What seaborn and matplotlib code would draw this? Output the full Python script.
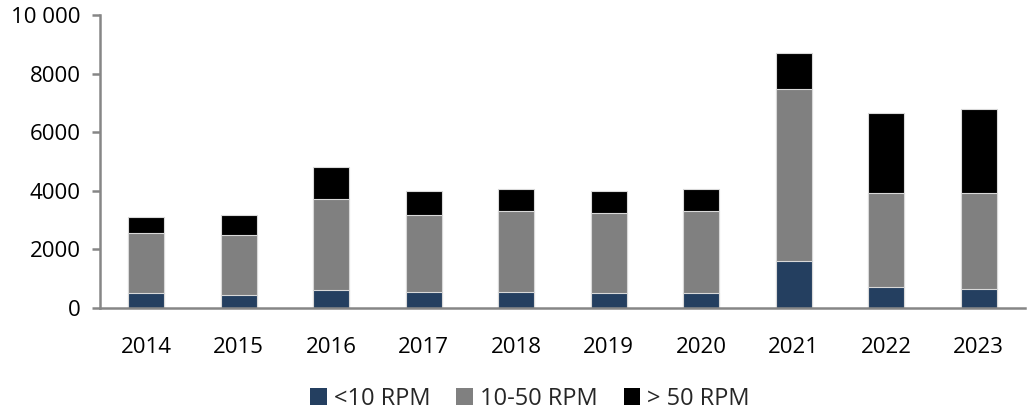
import matplotlib
matplotlib.use("Agg")
import matplotlib.pyplot as plt
import pandas as pd
import seaborn as sns
from matplotlib.patches import Patch

years = ['2014', '2015', '2016', '2017', '2018', '2019', '2020', '2021', '2022', '2023']
low = [500, 430, 625, 555, 555, 500, 500, 1590, 700, 635]
mid = [2060, 2050, 3095, 2620, 2755, 2740, 2810, 5885, 3225, 3290]
high = [545, 680, 1080, 805, 740, 740, 740, 1240, 2730, 2870]
series = ['<10 RPM', '10-50 RPM', '> 50 RPM']
colors = ['#243F60', '#808080', '#000000']
yticks = [0, 2000, 4000, 6000, 8000, 10000]
ylabels = ['0', '2000', '4000', '6000', '8000', '10 000']

df = pd.DataFrame({'year': years, 'low': low, 'mid': mid, 'high': high})
df['c1'] = df['low']
df['c2'] = df['c1'] + df['mid']
df['c3'] = df['c2'] + df['high']

sns.set_style('white')
plt.rcParams['font.family'] = ['Open Sans', 'DejaVu Sans']

fig = plt.figure(figsize=(10.3, 4.17), dpi=100)
ax = fig.add_axes([100 / 1030, 1 - 308 / 417, 925 / 1030, 293 / 417])

# stacked: draw cumulative totals back to front
for col, c in zip(['c3', 'c2', 'c1'], colors[::-1]):
    sns.barplot(data=df, x='year', y=col, color=c, width=0.39, saturation=1,
                edgecolor='#d9d9d9', linewidth=0.8, ax=ax)

ax.set_xlim(-0.5, 9.5)
ax.set_ylim(0, 10000)
ax.set_yticks(yticks)
ax.set_yticklabels(ylabels)
ax.set_xlabel('')
ax.set_ylabel('')

for s in ['top', 'right']:
    ax.spines[s].set_visible(False)
for s in ['left', 'bottom']:
    ax.spines[s].set_color('#868686')
    ax.spines[s].set_linewidth(1.8)

ax.set_xticks([i - 0.5 for i in range(11)], minor=True)
ax.tick_params(axis='x', which='major', length=0, pad=21, labelsize=16, colors='black')
ax.tick_params(axis='x', which='minor', length=6, width=1.8, color='#868686', direction='out')
ax.tick_params(axis='y', which='major', length=6, width=1.8, color='#868686', direction='out',
               labelsize=16, pad=8, left=True)
for t in ax.get_xticklabels() + ax.get_yticklabels():
    t.set_color('black')

handles = [Patch(facecolor=c, edgecolor='none') for c in colors]
fig.legend(handles, series, loc='center', bbox_to_anchor=(530 / 1030, 1 - 399 / 417),
           ncol=3, frameon=False, fontsize=17, handlelength=0.7, handleheight=0.7,
           handletextpad=0.3, columnspacing=1.1)

fig.savefig('out.png', dpi=100)
